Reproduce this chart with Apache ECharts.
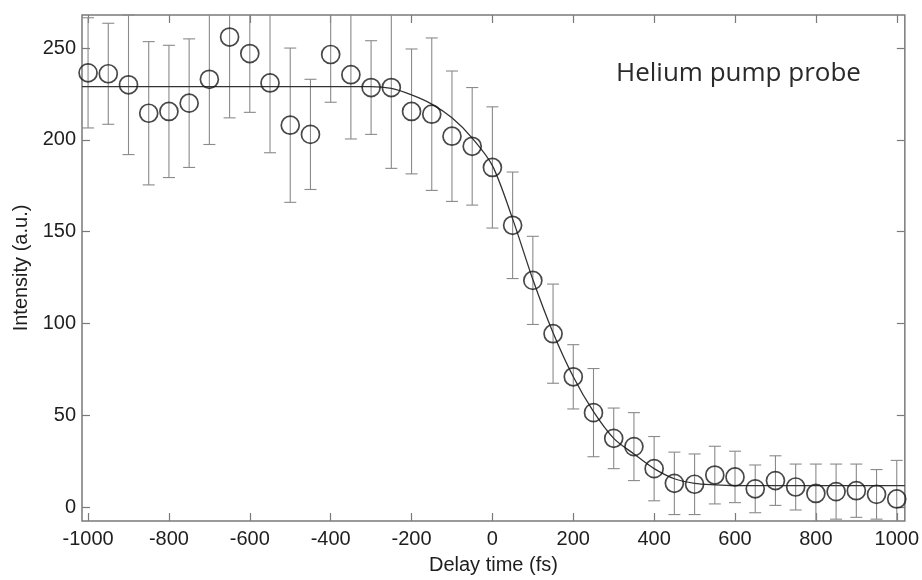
<!DOCTYPE html>
<html>
<head>
<meta charset="utf-8">
<script src="https://cdn.jsdelivr.net/npm/echarts@6/dist/echarts.min.js"></script>
<style>
html,body{margin:0;padding:0;background:#fff;}
#chart{width:922px;height:580px;}
</style>
</head>
<body>
<div id="chart"></div>
<script>
// ---- data ----
const delays = [-1000,-950,-900,-850,-800,-750,-700,-650,-600,-550,-500,-450,-400,-350,-300,-250,-200,-150,-100,-50,0,50,100,150,200,250,300,350,400,450,500,550,600,650,700,750,800,850,900,950,1000];
const intensity = [236.5,236,230,214.5,215.5,220,233,256,247,231,208,203,246.5,235.5,228.5,228.5,215.5,214,202,196.5,185,153.5,123.5,94.5,71,51.5,37.5,33,21,13,12.5,17.5,16.5,10,14.5,11,7.5,8.5,9,7,4.5];
const errors = [30,27.5,38,39,36,35,35.5,44,32,38,42,30,26,35,25.5,44,34,41.5,35.5,32,33,29,24,27,17.5,24,16.5,18.5,17.5,17,16.5,15.7,14,13,13.5,12.5,16,15,14.5,13.5,21];
const fitX = [-1015,-1000,-950,-900,-850,-800,-750,-700,-650,-600,-550,-500,-450,-400,-350,-300,-250,-200,-150,-100,-50,0,50,100,150,200,250,300,350,400,450,500,550,600,650,700,750,800,850,900,950,1000,1020];
const fitCurve = [229,229,229,229,229,229,229,229,229,229,229,229,229,229,229,229,228,224.5,219.5,212,201,186,157,124,95,71,52,37.5,29,21,15.5,13,12.2,11.8,11.8,11.8,11.8,11.8,11.8,11.8,11.8,11.8,11.8];
const xTicks = [-1000,-800,-600,-400,-200,0,200,400,600,800,1000];
const yTicks = [0,50,100,150,200,250];
const titleText = 'Helium pump probe';
const xName = 'Delay time (fs)';
const yName = 'Intensity (a.u.)';

const X_MIN = -1015, X_MAX = 1020, Y_MIN = -7.5, Y_MAX = 268;

const chart = echarts.init(document.getElementById('chart'), null, {renderer:'canvas'});
const labelFont = {color:'#1e1e1e', fontSize:20, fontFamily:'Liberation Sans, Arial, sans-serif'};
const tickStyle = {show:true, inside:true, length:8, lineStyle:{color:'#7a7a7a', width:1.2}};
const noLine = {show:false, onZero:false};
const plain = v => String(v);

const errData = delays.map((x,i)=>[x, intensity[i]-errors[i], intensity[i]+errors[i]]);

function renderErr(params, api){
  const x = api.value(0), lo = api.value(1), hi = api.value(2);
  const loC = Math.max(lo, Y_MIN), hiC = Math.min(hi, Y_MAX);
  const p1 = api.coord([x, hiC]), p2 = api.coord([x, loC]);
  const hw = 6;
  const st = {stroke:'#8a8a8a', lineWidth:1.1};
  const children = [{type:'line', shape:{x1:p1[0],y1:p1[1],x2:p2[0],y2:p2[1]}, style:st}];
  if (hi <= Y_MAX) children.push({type:'line', shape:{x1:p1[0]-hw,y1:p1[1],x2:p1[0]+hw,y2:p1[1]}, style:st});
  if (lo >= Y_MIN) children.push({type:'line', shape:{x1:p2[0]-hw,y1:p2[1],x2:p2[0]+hw,y2:p2[1]}, style:st});
  return {type:'group', children};
}

chart.setOption({
  backgroundColor:'#fff',
  animation:false,
  title:{
    text:titleText, left:611, top:56,
    textStyle:{fontFamily:'Open Sans, sans-serif', fontWeight:'normal', fontSize:26, color:'#2a2a2a'}
  },
  grid:{left:82, right:16, top:15, bottom:53, show:true, borderColor:'#7a7a7a', borderWidth:1.5, backgroundColor:'transparent'},
  xAxis:[
    {type:'value', position:'bottom', min:X_MIN, max:X_MAX,
     name:xName, nameLocation:'middle', nameGap:34,
     nameTextStyle:labelFont,
     axisLine:noLine, splitLine:{show:false},
     axisTick:Object.assign({customValues:xTicks}, tickStyle),
     axisLabel:Object.assign({customValues:xTicks, margin:8, formatter:plain}, labelFont)},
    {type:'value', position:'top', min:X_MIN, max:X_MAX,
     axisLine:noLine, splitLine:{show:false},
     axisTick:Object.assign({customValues:xTicks}, tickStyle),
     axisLabel:{show:false}}
  ],
  yAxis:[
    {type:'value', position:'left', min:Y_MIN, max:Y_MAX,
     name:yName, nameLocation:'middle', nameGap:48, nameRotate:90,
     nameTextStyle:labelFont,
     axisLine:noLine, splitLine:{show:false},
     axisTick:Object.assign({customValues:yTicks}, tickStyle),
     axisLabel:Object.assign({customValues:yTicks, margin:6, formatter:plain}, labelFont)},
    {type:'value', position:'right', min:Y_MIN, max:Y_MAX,
     axisLine:noLine, splitLine:{show:false},
     axisTick:Object.assign({customValues:yTicks}, tickStyle),
     axisLabel:{show:false}}
  ],
  series:[
    {type:'custom', name:'error', renderItem:renderErr, data:errData,
     encode:{x:0, y:[1,2]}, z:1, silent:true},
    {type:'line', name:'fit', data:fitX.map((x,i)=>[x, fitCurve[i]]),
     smooth:0.3, showSymbol:false, z:2,
     lineStyle:{color:'#333', width:1.3}},
    {type:'scatter', name:'data', data:delays.map((x,i)=>[x, intensity[i]]),
     symbol:'circle', symbolSize:18, z:3,
     itemStyle:{color:'rgba(0,0,0,0)', borderColor:'#1a1a1a', borderWidth:1.7}}
  ]
});
</script>
</body>
</html>
